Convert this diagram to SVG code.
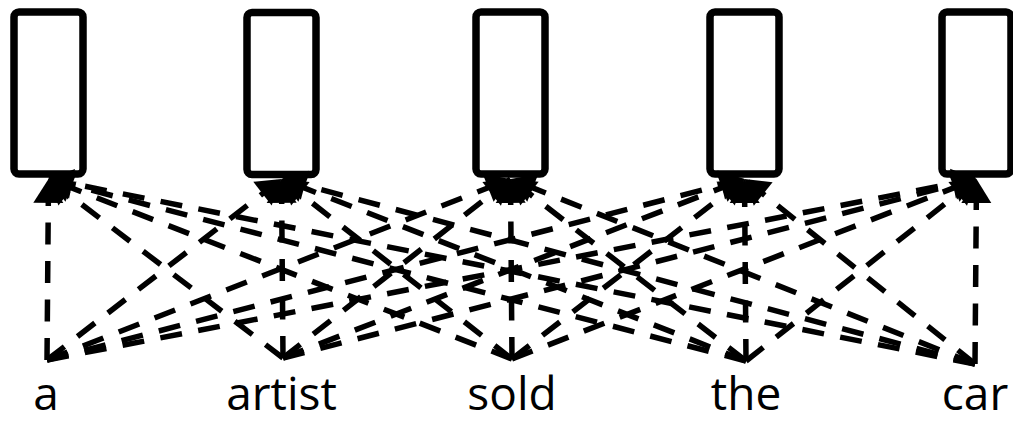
<svg xmlns="http://www.w3.org/2000/svg" width="1013" height="421" viewBox="0 0 1013 421">
  <style>
    .box { fill: #ffffff; stroke: #000000; stroke-width: 7.5; }
    .c { fill: none; stroke: #000000; stroke-width: 5.5; stroke-dasharray: 22 16.5; marker-end: url(#tri); }
    .lbl { font-family: "Open Sans", "Noto Sans", sans-serif; font-size: 46px; fill: #000000; text-anchor: middle; }
  </style>
  <defs>
    <!-- filled head where a connector meets a box -->
    <marker id="tri" markerUnits="userSpaceOnUse" orient="auto" markerWidth="1" markerHeight="1" refX="0" refY="0" overflow="visible">
      <path d="M0,0 L-24,-15 L-24,15 Z" fill="#000000"/>
    </marker>
  </defs>

  <rect width="1013" height="421" fill="#ffffff"/>

  <!-- hidden-state boxes -->
  <g id="box1"><rect class="box" x="14" y="12" width="69" height="162" rx="5"/></g>
  <g id="box2"><rect class="box" x="247" y="12.5" width="69" height="162" rx="5"/></g>
  <g id="box3"><rect class="box" x="476" y="12" width="69" height="162" rx="5"/></g>
  <g id="box4"><rect class="box" x="710" y="12" width="69" height="162" rx="5"/></g>
  <g id="box5"><rect class="box" x="942" y="12" width="69" height="162" rx="5"/></g>

  <!-- every word feeds every box -->
  <g id="connectors">
    <!-- from "a" -->
    <path class="c" d="M47 360 L48.5 179"/>
    <path class="c" d="M47 360 L281.5 179"/>
    <path class="c" d="M47 360 L510.5 179"/>
    <path class="c" d="M47 360 L744.5 179"/>
    <path class="c" d="M47 360 L976.5 179"/>
    <!-- from "artist" -->
    <path class="c" d="M283 358 L48.5 179"/>
    <path class="c" d="M283 358 L281.5 179"/>
    <path class="c" d="M283 358 L510.5 179"/>
    <path class="c" d="M283 358 L744.5 179"/>
    <path class="c" d="M283 358 L976.5 179"/>
    <!-- from "sold" -->
    <path class="c" d="M512 359 L48.5 179"/>
    <path class="c" d="M512 359 L281.5 179"/>
    <path class="c" d="M512 359 L510.5 179"/>
    <path class="c" d="M512 359 L744.5 179"/>
    <path class="c" d="M512 359 L976.5 179"/>
    <!-- from "the" -->
    <path class="c" d="M746 361 L48.5 179"/>
    <path class="c" d="M746 361 L281.5 179"/>
    <path class="c" d="M746 361 L510.5 179"/>
    <path class="c" d="M746 361 L744.5 179"/>
    <path class="c" d="M746 361 L976.5 179"/>
    <!-- from "car" -->
    <path class="c" d="M975 364 L48.5 179"/>
    <path class="c" d="M975 364 L281.5 179"/>
    <path class="c" d="M975 364 L510.5 179"/>
    <path class="c" d="M975 364 L744.5 179"/>
    <path class="c" d="M975 364 L976.5 179"/>
  </g>

  <!-- input words -->
  <g id="w-a"><text class="lbl" x="46" y="410">a</text></g>
  <g id="w-artist"><text class="lbl" x="281.5" y="410">artist</text></g>
  <g id="w-sold"><text class="lbl" x="512" y="410">sold</text></g>
  <g id="w-the"><text class="lbl" x="746" y="410">the</text></g>
  <g id="w-car"><text class="lbl" x="975" y="410">car</text></g>
</svg>
